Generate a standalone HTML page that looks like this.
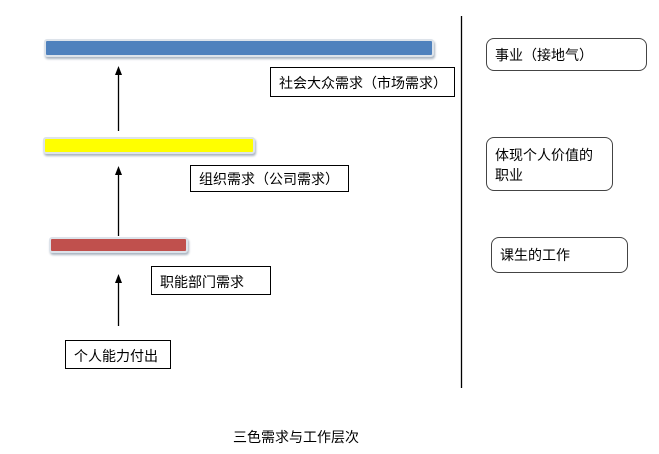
<!DOCTYPE html>
<html><head><meta charset="utf-8"><style>
body{margin:0;background:#fff;width:659px;height:454px;position:relative;overflow:hidden;font-family:"Liberation Sans","Noto Sans CJK SC",sans-serif;font-size:14px;color:#000}
.b{position:absolute;box-sizing:border-box;border:1px solid #000;background:#fff;padding-left:8px;line-height:1}
.r{border-radius:8px;border-color:#444}
.bar{position:absolute;box-sizing:border-box;border:2px solid #dde3ea;border-radius:3px;box-shadow:1px 2px 2px #aab4c0}
</style></head><body>
<div class="bar" style="left:44px;top:39px;width:390px;height:18px;background:#4f81bd"></div>
<div class="bar" style="left:43px;top:137px;width:212px;height:17px;background:#ffff00"></div>
<div class="bar" style="left:49px;top:237px;width:139px;height:16px;background:#c0504d"></div>
<svg style="position:absolute;left:0;top:0" width="659" height="454">
<g stroke="#000" stroke-width="1.3">
<line x1="118.5" y1="131" x2="118.5" y2="72"/>
<line x1="118.5" y1="236" x2="118.5" y2="172"/>
<line x1="118.5" y1="326" x2="118.5" y2="282"/>
<line x1="461.5" y1="16" x2="461.5" y2="388"/>
</g>
<g fill="#000">
<polygon points="118.5,66 115,75 122,75"/>
<polygon points="118.5,166 115,175 122,175"/>
<polygon points="118.5,274 115,283 122,283"/>
</g>
</svg>
<div class="b" style="left:270px;top:67px;width:185px;height:30px;padding-top:8px">社会大众需求（市场需求）</div>
<div class="b" style="left:190px;top:165px;width:159px;height:27px;padding-top:6px">组织需求（公司需求）</div>
<div class="b" style="left:151px;top:266px;width:120px;height:29px;padding-top:8px">职能部门需求</div>
<div class="b" style="left:65px;top:340px;width:106px;height:29px;padding-top:8px">个人能力付出</div>
<div class="b r" style="left:486px;top:38px;width:161px;height:33px;padding-top:9px">事业（接地气）</div>
<div class="b r" style="left:486px;top:137px;width:127px;height:54px;line-height:20px;padding-top:7px">体现个人价值的<br>职业</div>
<div class="b r" style="left:491px;top:237px;width:137px;height:36px;padding-top:10px">课生的工作</div>
<div style="position:absolute;left:233px;top:429px;width:150px;line-height:16px">三色需求与工作层次</div>
</body></html>
